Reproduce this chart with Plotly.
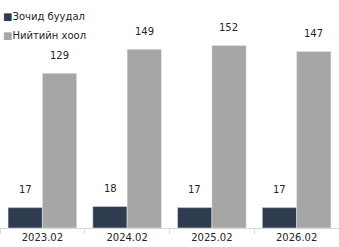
import plotly.graph_objects as go

categories = ["2023.02", "2024.02", "2025.02", "2026.02"]
hotel = [17, 18, 17, 17]
catering = [129, 149, 152, 147]
series_names = ["Зочид буудал", "Нийтийн хоол"]
colors = ["#2f3b4f", "#a6a6a6"]

fig = go.Figure()
for vals, name, col in [(hotel, series_names[0], colors[0]), (catering, series_names[1], colors[1])]:
    fig.add_trace(go.Bar(
        x=categories, y=vals, marker_color=col,
        name=f'<span style="color:{col}">■</span>{name}'))

for vals, shift in [(hotel, -17), (catering, 17)]:
    for i, v in enumerate(vals):
        fig.add_annotation(x=i, y=v, text=str(v), xshift=shift, yshift=18,
                           showarrow=False, font=dict(size=10, color="#262626"))

fig.update_layout(
    width=339, height=247,
    margin=dict(l=0, r=0, t=0, b=19, autoexpand=False),
    barmode="group", bargap=0.19, bargroupgap=0,
    plot_bgcolor="white", paper_bgcolor="white",
    font=dict(family="DejaVu Sans, sans-serif", size=10, color="#262626"),
    showlegend=True,
    legend=dict(x=-0.109, y=0.995, xanchor="left", yanchor="top", bgcolor="rgba(0,0,0,0)",
                font=dict(size=10), itemwidth=30, tracegroupgap=0),
    xaxis=dict(type="category", categoryorder="array", categoryarray=categories,
               showline=True, linecolor="#d9d9d9", linewidth=1, ticks="outside",
               tickson="boundaries", ticklen=5, tickcolor="#d9d9d9",
               tickfont=dict(size=10), automargin=False),
    yaxis=dict(visible=False, range=[0, 190]),
)

fig.write_html("out.html", config={"displayModeBar": False},
               post_script="document.body.style.margin='0';document.body.style.overflow='hidden';")
